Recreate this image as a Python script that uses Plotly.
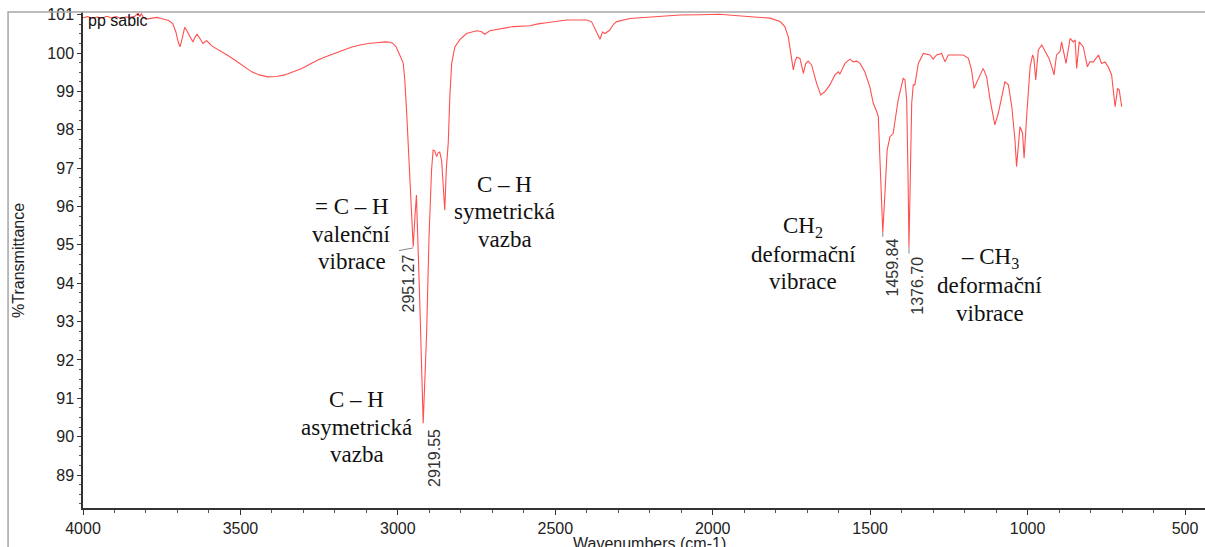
import plotly.graph_objects as go

# ---- spectrum data (wavenumber cm-1, %T) ----
wavenumber = [
    4000, 3985, 3970, 3955, 3940, 3925, 3910, 3895, 3880, 3865, 3850, 3835, 3825, 3820, 3815, 3808,
    3800, 3794, 3780, 3765, 3752, 3740, 3728, 3715, 3705, 3698, 3692, 3686, 3677, 3670, 3662, 3651,
    3645, 3638, 3630, 3619, 3612, 3607, 3590, 3572, 3545, 3518, 3490, 3464, 3440, 3413, 3385, 3359,
    3330, 3305, 3280, 3254, 3227, 3200, 3173, 3146, 3120, 3095, 3068, 3041, 3025, 3016, 3006, 3000,
    2994, 2983, 2978, 2972, 2964, 2956, 2951.27, 2946, 2941, 2930, 2919.55, 2909, 2901, 2893, 2888,
    2883, 2877, 2872, 2867, 2861, 2856, 2851, 2846, 2840, 2835, 2829, 2819, 2803, 2782, 2750, 2735,
    2724, 2708, 2670, 2634, 2581, 2555, 2528, 2495, 2464, 2430, 2401, 2385, 2377, 2369, 2358, 2350,
    2342, 2327, 2315, 2305, 2263, 2210, 2157, 2104, 2041, 1977, 1930, 1882, 1818, 1786, 1771, 1760,
    1753, 1744, 1738, 1733, 1723, 1712, 1705, 1697, 1686, 1670, 1657, 1644, 1628, 1612, 1601, 1596,
    1580, 1564, 1554, 1543, 1532, 1517, 1501, 1490, 1479, 1474, 1469, 1463.5, 1459.84, 1453, 1446,
    1437, 1427, 1411, 1395, 1389.5, 1384, 1380, 1376.70, 1372, 1368, 1363, 1358, 1347, 1331, 1310,
    1300, 1289, 1273, 1262, 1252, 1215, 1204, 1188, 1178, 1170, 1157, 1141, 1130, 1119, 1104, 1093,
    1072, 1061, 1050, 1040, 1035, 1024, 1016, 1011, 1003, 992, 984, 980, 974, 966, 955, 939, 932,
    923, 916, 908, 897, 892, 878, 865, 855, 849, 844, 836, 823, 810, 802, 791, 775, 765, 754, 744,
    733, 728, 722, 714, 709, 701,
]
transmittance = [
    100.92, 100.95, 100.90, 100.94, 100.91, 100.96, 100.92, 100.95, 100.90, 100.94, 100.93, 100.96,
    101.04, 100.95, 101.02, 100.93, 100.90, 100.89, 100.91, 100.93, 100.90, 100.88, 100.85, 100.77,
    100.55, 100.30, 100.16, 100.35, 100.67, 100.58, 100.45, 100.29, 100.40, 100.49, 100.40, 100.25,
    100.30, 100.32, 100.18, 100.10, 99.96, 99.82, 99.66, 99.51, 99.43, 99.38, 99.39, 99.43, 99.52,
    99.60, 99.71, 99.82, 99.91, 99.99, 100.08, 100.16, 100.21, 100.25, 100.27, 100.29, 100.28,
    100.25, 100.17, 100.08, 99.95, 99.74, 99.30, 98.44, 97.14, 96.10, 94.95, 95.70, 96.30, 93.40,
    90.35, 92.61, 95.20, 96.95, 97.47, 97.45, 97.30, 97.40, 97.42, 97.20, 96.60, 95.90, 97.00,
    97.65, 98.86, 99.73, 100.16, 100.35, 100.51, 100.58, 100.56, 100.49, 100.58, 100.64, 100.69,
    100.71, 100.76, 100.79, 100.82, 100.86, 100.86, 100.86, 100.82, 100.70, 100.55, 100.36, 100.55,
    100.51, 100.60, 100.75, 100.82, 100.90, 100.93, 100.95, 100.99, 101.00, 101.01, 100.98, 100.95,
    100.91, 100.82, 100.69, 100.42, 99.99, 99.56, 99.80, 99.89, 99.86, 99.47, 99.72, 99.79, 99.69,
    99.21, 98.91, 98.99, 99.17, 99.43, 99.51, 99.45, 99.73, 99.84, 99.77, 99.79, 99.73, 99.51,
    99.12, 98.69, 98.47, 98.34, 97.25, 96.09, 95.33, 96.35, 97.47, 97.82, 97.90, 98.78, 99.34,
    99.30, 98.78, 96.95, 94.95, 96.95, 98.69, 99.17, 99.17, 99.73, 99.99, 99.95, 99.84, 99.95,
    99.99, 99.77, 99.95, 99.95, 99.95, 99.86, 99.56, 99.08, 99.30, 99.60, 99.38, 98.78, 98.13,
    98.43, 99.25, 99.17, 98.60, 97.73, 97.04, 98.08, 97.91, 97.26, 98.34, 99.64, 99.95, 99.86,
    99.30, 100.08, 100.21, 99.99, 99.86, 99.64, 99.43, 99.95, 100.04, 100.29, 99.73, 100.38,
    100.29, 100.34, 99.60, 100.29, 100.16, 99.64, 99.77, 99.77, 99.95, 99.73, 99.77, 99.64,
    99.43, 99.04, 98.60, 99.08, 99.04, 98.60,
]

# ---- labelled peaks ----
peak_wn = [2951.27, 2919.55, 1459.84, 1376.70]
peak_t = [94.95, 90.35, 95.33, 94.95]
peak_labels = ["2951.27", "2919.55", "1459.84", "1376.70"]

# ---- band assignments (one list of lines per band) ----
band_lines = [
    ["= C – H", "valenční", "vibrace"],
    ["C – H", "asymetrická", "vazba"],
    ["C – H", "symetrická", "vazba"],
    ["CH<sub>2</sub>", "deformační", "vibrace"],
    ["– CH<sub>3</sub>", "deformační", "vibrace"],
]
band_wn = [3146, 3130, 2660, 1713, 1120]
band_t = [95.28, 90.25, 95.86, 94.76, 93.93]

x_ticks = [4000, 3500, 3000, 2500, 2000, 1500, 1000, 500]
y_ticks = list(range(89, 102))

SANS = "Liberation Sans, Arial, sans-serif"
SERIF = "Liberation Serif, Times New Roman, serif"
LINE_GAP = 27.5

fig = go.Figure()
fig.add_trace(go.Scatter(
    x=wavenumber, y=transmittance, mode="lines",
    line=dict(color="rgb(255,80,80)", width=1.1),
    hoverinfo="skip",
))

annotations = []
# peak labels (rotated)
peak_shift = [(-4.5, -6), (11.5, -4), (9.5, -4), (9, -8)]
for wn, t, lab, (dx, dy) in zip(peak_wn, peak_t, peak_labels, peak_shift):
    annotations.append(dict(
        x=wn, y=t, xref="x", yref="y", text=lab, showarrow=False, textangle=-90,
        xanchor="center", yanchor="top", xshift=dx, yshift=dy,
        font=dict(family=SANS, size=16, color="#333333"),
    ))
# band texts, line by line
for lines, wn, t in zip(band_lines, band_wn, band_t):
    n = len(lines)
    for i, txt in enumerate(lines):
        annotations.append(dict(
            x=wn, y=t, xref="x", yref="y", text=txt, showarrow=False,
            xanchor="center", yanchor="middle", align="center",
            yshift=((n - 1) / 2 - i) * LINE_GAP,
            font=dict(family=SERIF, size=23, color="#111111"),
        ))
# sample name
annotations.append(dict(
    x=0.003, y=0.982, xref="paper", yref="paper", text="pp sabic", showarrow=False,
    xanchor="left", yanchor="middle", font=dict(family=SANS, size=16, color="#111111"),
))
# axis titles
annotations.append(dict(
    x=0.505, y=-0.072, xref="paper", yref="paper", text="Wavenumbers (cm-1)", showarrow=False,
    xanchor="center", yanchor="middle", font=dict(family=SANS, size=16, color="#222222"),
))
annotations.append(dict(
    x=-0.058, y=0.5, xref="paper", yref="paper", text="%Transmittance", showarrow=False,
    textangle=-90, xanchor="center", yanchor="middle",
    font=dict(family=SANS, size=16, color="#222222"),
))

shapes = [
    # outer gray frame
    dict(type="rect", xref="paper", yref="paper", x0=-0.0668, x1=1.05, y0=-0.09, y1=1.0,
         line=dict(color="#a6a6a6", width=1.5), fillcolor="rgba(0,0,0,0)", layer="above"),
    # leader lines of peak labels
    dict(type="line", xref="x", yref="y", x0=peak_wn[0], y0=peak_t[0] - 0.03,
         x1=peak_wn[0] + 45, y1=peak_t[0] - 0.1, line=dict(color="#888888", width=1)),
    dict(type="line", xref="x", yref="y", x0=peak_wn[2], y0=peak_t[2],
         x1=peak_wn[2], y1=peak_t[2] - 0.12, line=dict(color="#888888", width=1)),
    dict(type="line", xref="x", yref="y", x0=peak_wn[3], y0=peak_t[3],
         x1=peak_wn[3], y1=peak_t[3] - 0.18, line=dict(color="#888888", width=1)),
]

fig.update_layout(
    width=1205, height=547,
    margin=dict(l=83, r=0, t=12, b=39),
    plot_bgcolor="white", paper_bgcolor="white",
    showlegend=False,
    annotations=annotations,
    shapes=shapes,
    xaxis=dict(
        range=[4000, 436.5], tickmode="array", tickvals=x_ticks,
        ticks="outside", ticklen=5, tickwidth=1, tickcolor="#333333",
        showline=True, linecolor="#333333", linewidth=1.5,
        showgrid=False, zeroline=False,
        tickfont=dict(family=SANS, size=16, color="#222222"),
        minor=dict(dtick=100, tick0=0, ticks="outside", ticklen=3, tickcolor="#555555", showgrid=False),
    ),
    yaxis=dict(
        range=[88.14, 101.07], tickmode="array", tickvals=y_ticks,
        ticks="outside", ticklen=4, tickwidth=1, tickcolor="#333333",
        showline=True, linecolor="#333333", linewidth=1.5,
        showgrid=False, zeroline=False,
        tickfont=dict(family=SANS, size=16, color="#222222"),
        minor=dict(dtick=0.25, tick0=0, ticks="outside", ticklen=2, tickcolor="#555555", showgrid=False),
    ),
)

fig.write_html("out.html")
